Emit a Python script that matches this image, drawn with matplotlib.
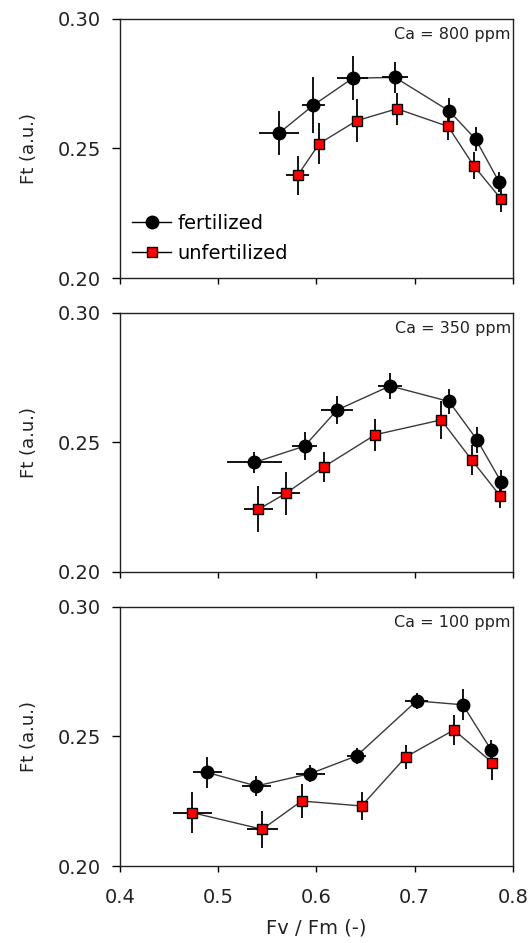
import matplotlib
matplotlib.use("Agg")
import matplotlib.pyplot as plt
from matplotlib.ticker import FixedLocator

plt.rcParams['font.family'] = ['DejaVu Sans']

panel_labels = ["Ca = 800 ppm", "Ca = 350 ppm", "Ca = 100 ppm"]
series_names = ["fertilized", "unfertilized"]

# Ca = 800 ppm
fert800_x = [0.562, 0.597, 0.637, 0.680, 0.735, 0.762, 0.786]
fert800_y = [0.2559, 0.2667, 0.2771, 0.2774, 0.2645, 0.2536, 0.2370]
fert800_xerr = [0.020, 0.012, 0.016, 0.0136, 0.004, 0.004, 0.004]
fert800_yerr = [0.0084, 0.0107, 0.0084, 0.0060, 0.0048, 0.0045, 0.0039]
unf800_x = [0.581, 0.603, 0.641, 0.682, 0.734, 0.760, 0.7875]
unf800_y = [0.2396, 0.2519, 0.2607, 0.2653, 0.2585, 0.2434, 0.2307]
unf800_xerr = [0.012, 0.004, 0.004, 0.004, 0.004, 0.004, 0.004]
unf800_yerr = [0.0076, 0.0080, 0.0082, 0.0061, 0.0053, 0.0053, 0.0053]

# Ca = 350 ppm
fert350_x = [0.537, 0.588, 0.621, 0.675, 0.735, 0.7635, 0.788]
fert350_y = [0.2422, 0.2485, 0.2624, 0.2717, 0.2657, 0.2509, 0.2347]
fert350_xerr = [0.028, 0.0127, 0.016, 0.012, 0.004, 0.004, 0.004]
fert350_yerr = [0.0042, 0.0053, 0.0055, 0.0049, 0.0050, 0.0050, 0.0046]
unf350_x = [0.541, 0.569, 0.608, 0.660, 0.727, 0.758, 0.787]
unf350_y = [0.2241, 0.2303, 0.2406, 0.2529, 0.2586, 0.2432, 0.2293]
unf350_xerr = [0.015, 0.0144, 0.004, 0.004, 0.004, 0.004, 0.004]
unf350_yerr = [0.0089, 0.0082, 0.0058, 0.0061, 0.0072, 0.0057, 0.0048]

# Ca = 100 ppm
fert100_x = [0.489, 0.539, 0.594, 0.641, 0.702, 0.749, 0.778]
fert100_y = [0.2361, 0.2309, 0.2357, 0.2425, 0.2637, 0.2622, 0.2447]
fert100_xerr = [0.0148, 0.0144, 0.0148, 0.010, 0.012, 0.004, 0.004]
fert100_yerr = [0.0061, 0.0037, 0.0034, 0.0030, 0.0030, 0.0059, 0.0040]
unf100_x = [0.474, 0.545, 0.585, 0.646, 0.691, 0.740, 0.779]
unf100_y = [0.2206, 0.2142, 0.2251, 0.2232, 0.2421, 0.2525, 0.2399]
unf100_xerr = [0.0203, 0.016, 0.004, 0.004, 0.004, 0.004, 0.004]
unf100_yerr = [0.0079, 0.0071, 0.0066, 0.0053, 0.0045, 0.0057, 0.0068]

x_ticks = [0.4, 0.5, 0.6, 0.7, 0.8]
x_ticklabels = ["0.4", "0.5", "0.6", "0.7", "0.8"]
y_ticks = [0.20, 0.25, 0.30]
y_ticklabels = ["0.20", "0.25", "0.30"]

panels = [
    (fert800_x, fert800_y, fert800_xerr, fert800_yerr, unf800_x, unf800_y, unf800_xerr, unf800_yerr),
    (fert350_x, fert350_y, fert350_xerr, fert350_yerr, unf350_x, unf350_y, unf350_xerr, unf350_yerr),
    (fert100_x, fert100_y, fert100_xerr, fert100_yerr, unf100_x, unf100_y, unf100_xerr, unf100_yerr),
]

fig = plt.figure(figsize=(5.31, 9.43), dpi=100)
left, width = 0.2255, 0.7405
bottoms = [0.7050, 0.3935, 0.0815]
height = 0.2751

for i, (p, lab) in enumerate(zip(panels, panel_labels)):
    fx, fy, fxe, fye, ux, uy, uxe, uye = p
    ax = fig.add_axes([left, bottoms[i], width, height])
    ax.plot(fx, fy, '-', color='#3a3a3a', lw=1.0, zorder=2)
    ax.plot(ux, uy, '-', color='#3a3a3a', lw=1.0, zorder=2)
    ax.errorbar(fx, fy, xerr=fxe, yerr=fye, fmt='none', ecolor='black',
                elinewidth=1.3, capsize=0, zorder=3)
    ax.errorbar(ux, uy, xerr=uxe, yerr=uye, fmt='none', ecolor='black',
                elinewidth=1.3, capsize=0, zorder=3)
    ax.plot(fx, fy, 'o', color='black', ms=9, mec='black', zorder=4)
    ax.plot(ux, uy, 's', color='#ff0000', ms=7.5, mec='black', mew=1.0, zorder=5)
    ax.set_xlim(0.4, 0.8)
    ax.set_ylim(0.20, 0.30)
    ax.xaxis.set_major_locator(FixedLocator(x_ticks))
    ax.yaxis.set_major_locator(FixedLocator(y_ticks))
    ax.set_yticklabels(y_ticklabels)
    ax.tick_params(axis='x', direction='out', length=4, width=1.0, labelsize=14, pad=12,
                   labelcolor='#222222')
    ax.tick_params(axis='y', direction='out', length=5.5, width=1.0, labelsize=14, pad=8,
                   labelcolor='#222222')
    if i < 2:
        ax.set_xticklabels([])
    else:
        ax.set_xticklabels(x_ticklabels)
        ax.set_xlabel("Fv / Fm (-)", fontsize=14, labelpad=8, color='#222222')
    for s in ax.spines.values():
        s.set_linewidth(1.0)
        s.set_color('#222222')
    ax.set_ylabel("Ft (a.u.)", fontsize=13, labelpad=14, color='#222222')
    ax.text(0.995, 0.938, lab, transform=ax.transAxes, ha='right', va='center',
            fontsize=11.5, color='#222222')
    if i == 0:
        h1, = ax.plot([], [], '-o', color='black', lw=1.0, ms=9)
        h2, = ax.plot([], [], '-s', color='black', mfc='#ff0000', mec='black', lw=1.0, ms=7.5)
        ax.legend([h1, h2], series_names, loc='lower left', bbox_to_anchor=(0.01, 0.025),
                  frameon=False, fontsize=14, handlelength=2.0, handletextpad=0.3,
                  borderaxespad=0.15, labelspacing=0.55, borderpad=0.3)

fig.savefig("out.png", dpi=100)
